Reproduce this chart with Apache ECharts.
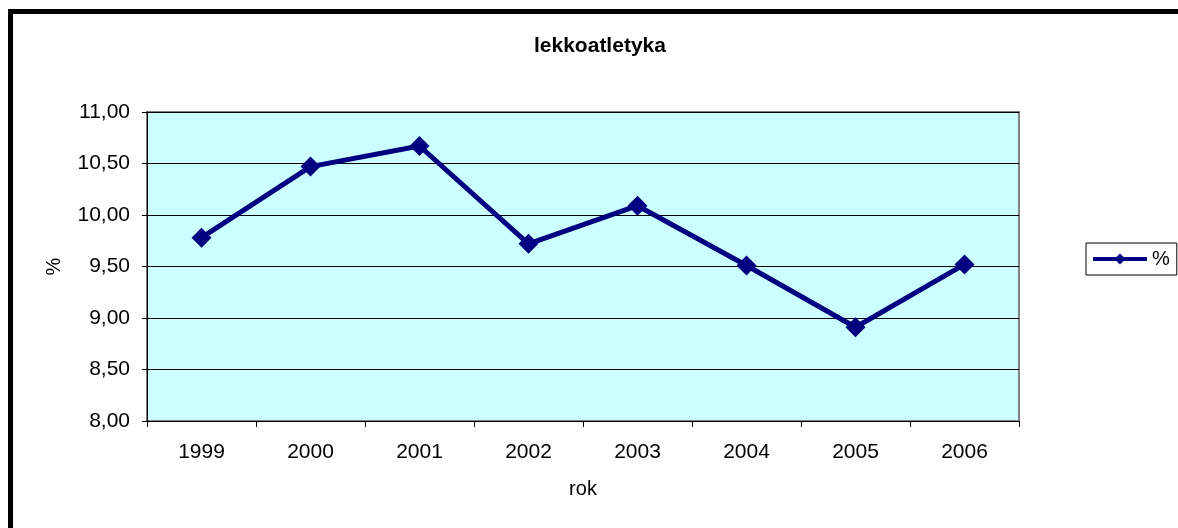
<!DOCTYPE html>
<html>
<head>
<meta charset="utf-8">
<script src="https://cdn.jsdelivr.net/npm/echarts@6/dist/echarts.min.js"></script>
<style>
  html, body { margin: 0; padding: 0; background: #fff; }
  #chart { width: 1178px; height: 528px; }
</style>
</head>
<body>
<div id="chart"></div>
<script>
// lata i udział lekkoatletyki (%)
const years = ['1999', '2000', '2001', '2002', '2003', '2004', '2005', '2006'];
const percent = [9.78, 10.47, 10.67, 9.72, 10.09, 9.51, 8.91, 9.52];

const font = 'Liberation Sans, Arial, sans-serif';
const chart = echarts.init(document.getElementById('chart'));

chart.setOption({
  animation: false,
  backgroundColor: '#fff',
  title: {
    text: 'lekkoatletyka',
    left: 529,
    top: 31,
    textStyle: { fontFamily: font, fontSize: 21, fontWeight: 'bold', color: '#000' }
  },
  legend: {
    data: ['%'],
    left: 1086,
    top: 243,
    orient: 'vertical',
    padding: [6, 7, 6, 5],
    itemWidth: 54,
    itemHeight: 14,
    itemGap: 5,
    borderColor: '#000',
    borderWidth: 1,
    lineStyle: { width: 4 },
    textStyle: { fontFamily: font, fontSize: 20, color: '#000' }
  },
  grid: {
    left: 147,
    top: 112,
    right: 159,
    bottom: 107,
    show: true,
    backgroundColor: '#CCFFFF',
    borderColor: '#808080',
    borderWidth: 2
  },
  xAxis: {
    type: 'category',
    data: years,
    boundaryGap: true,
    name: 'rok',
    nameLocation: 'middle',
    nameGap: 58,
    nameTextStyle: { fontFamily: font, fontSize: 20, color: '#000' },
    axisLine: { lineStyle: { color: '#000', width: 1 } },
    axisTick: { show: true, length: 6, lineStyle: { color: '#000' } },
    axisLabel: { margin: 21, fontFamily: font, fontSize: 21, color: '#000' },
    splitLine: { show: false }
  },
  yAxis: {
    type: 'value',
    min: 8,
    max: 11,
    interval: 0.5,
    name: '%',
    nameLocation: 'middle',
    nameGap: 83,
    nameRotate: 90,
    nameTextStyle: { fontFamily: font, fontSize: 20, color: '#000' },
    axisLine: { show: true, lineStyle: { color: '#000', width: 1 } },
    axisTick: { show: true, length: 5, lineStyle: { color: '#000' } },
    axisLabel: {
      margin: 17,
      fontFamily: font,
      fontSize: 21,
      color: '#000',
      formatter: v => v.toFixed(2).replace('.', ',')
    },
    splitLine: { show: true, lineStyle: { color: '#000', width: 1 } }
  },
  graphic: [{
    type: 'rect',
    shape: { x: 10.5, y: 11.5, width: 1300, height: 700 },
    style: { fill: null, stroke: '#000', lineWidth: 5 },
    z: 100
  }],
  series: [{
    name: '%',
    type: 'line',
    data: percent,
    symbol: 'diamond',
    symbolSize: 20,
    itemStyle: { color: '#000080' },
    lineStyle: { color: '#000080', width: 5 },
    z: 5
  }]
});
</script>
</body>
</html>
